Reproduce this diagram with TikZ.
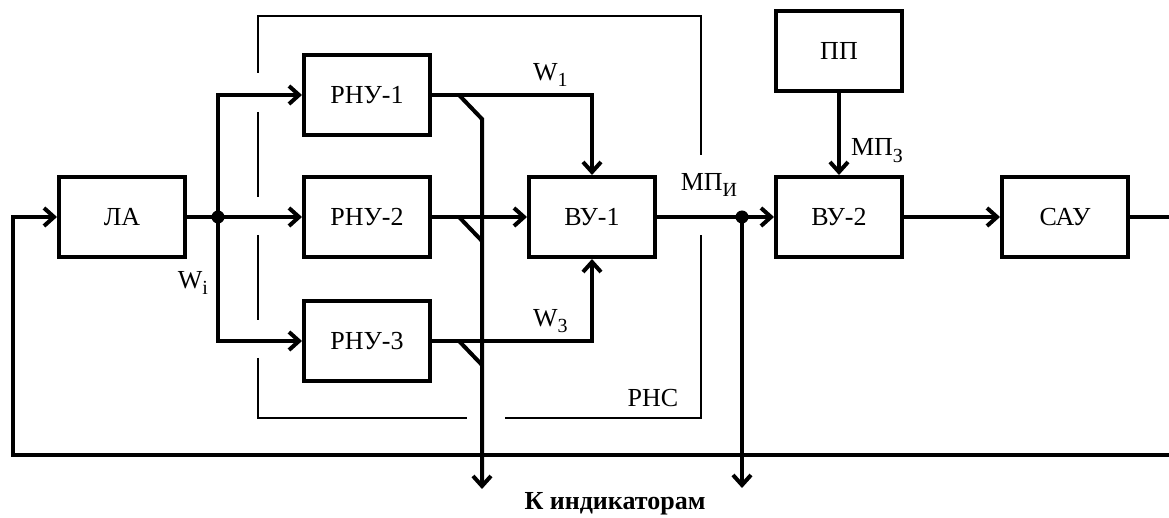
\documentclass[tikz,border=0pt]{standalone}
\usepackage{fontspec}
\setmainfont{Liberation Serif}
\usetikzlibrary{positioning, arrows.meta, calc}
\newcommand\lowidx[1]{\raisebox{-0.55ex}{\fontsize{10}{12}\selectfont #1}}

\begin{document}
\begin{tikzpicture}[
  font=\fontsize{13}{15}\selectfont,
  node distance=19pt and 57.5pt,
  blk/.style  ={rectangle, draw, line width=2pt,
                minimum width=63pt, minimum height=40pt,
                align=center, inner sep=0pt},
  flow/.style ={-{Straight Barb[length=5pt,width=9pt]}, line width=2pt},
  wire/.style ={line width=2pt},
  frame/.style={line width=0.6pt},
  dot/.style  ={circle, fill, inner sep=0pt, minimum size=6.5pt},
  lbl/.style  ={inner sep=1pt}
]
\useasboundingbox (0,0) rectangle (584.5pt,-259pt);

% ---------- Aircraft and receivers ----------
\node[blk] (la) at (61pt,-108.5pt) {ЛА};
\node[blk, right=57.5pt of la]  (rnu2) {РНУ-2};
\node[blk, above=19pt of rnu2]  (rnu1) {РНУ-1};
\node[blk, below=20pt of rnu2]  (rnu3) {РНУ-3};

% ---------- Computers and control ----------
\node[blk, right=47.5pt of rnu2] (vu1) {ВУ-1};
\node[blk, right=58.5pt of vu1]  (vu2) {ВУ-2};
\node[blk, above=41pt of vu2]    (pp)  {ПП};
\node[blk, right=48pt of vu2]    (sau) {САУ};

% ---------- Helper points ----------
\coordinate (j1)   at ($(la.east)+(15.5pt,0)$);
\coordinate (j2)   at ($(vu1.east)+(42.5pt,0)$);
\coordinate (t1)   at ($(rnu1.east)+(13.5pt,0)$);
\coordinate (t2)   at ($(rnu2.east)+(13.5pt,0)$);
\coordinate (t3)   at ($(rnu3.east)+(13.5pt,0)$);
\coordinate (b1)   at ($(t1)+(11.5pt,-12pt)$);
\coordinate (b2)   at ($(t2)+(11.5pt,-12pt)$);
\coordinate (b3)   at ($(t3)+(11.5pt,-12pt)$);
\coordinate (ind1) at ($(b1)+(0,-185pt)$);
\coordinate (ind2) at ($(j2)+(0,-135.5pt)$);
\coordinate (fbL)  at (6.5pt,-227.5pt);
\coordinate (fbR)  at (584.5pt,-227.5pt);
\coordinate (outR) at (584.5pt,-108.5pt);

% ---------- Arrows ----------
\draw[wire] (la.east) -- (j1);
\draw[flow] (j1) |- (rnu1.west);
\draw[flow] (j1) -- (rnu2.west);
\draw[flow] (j1) |- (rnu3.west);
\node[dot] (d1) at (j1) {};

\draw[flow] (rnu1.east) -| node[lbl, pos=0.37, above=2pt] (w1) {W\lowidx{1}} (vu1.north);
\draw[flow] (rnu2) -- (vu1);
\draw[flow] (rnu3.east) -| node[lbl, pos=0.37, above=2pt] (w3) {W\lowidx{3}} (vu1.south);

\draw[flow] (t1) -- (b1) -- (ind1);
\draw[wire] (t2) -- (b2);
\draw[wire] (t3) -- (b3);

\draw[flow] (vu1) -- (vu2);
\draw[flow] (j2)  -- (ind2);
\node[dot] (d2) at (j2) {};
\draw[flow] (pp)  -- node[lbl, pos=0.7, right=4pt] (mpz) {МП\lowidx{З}} (vu2);
\draw[flow] (vu2) -- (sau);
\draw[wire] (sau.east) -- (outR);
\draw[flow] (fbR) -- (fbL) |- (la.west);

% ---------- Labels ----------
\node[lbl] (mpi) at ($(j2)+(-16.5pt,16pt)$) {МП\lowidx{И}};
\node[lbl] (wi)  at (96.5pt,-141.5pt) {W\lowidx{i}};
\node[lbl] (rns) at (326.5pt,-199pt) {РНС};
\node[lbl, font=\fontsize{13}{15}\selectfont\bfseries] (ind) at (307.5pt,-252pt) {К индикаторам};

% ---------- РНС frame ----------
\draw[frame] (129pt,-36.5pt) -- (129pt,-8pt) -- (350.5pt,-8pt) -- (350.5pt,-77.5pt);
\draw[frame] (129pt,-56pt)   -- (129pt,-98.5pt);
\draw[frame] (129pt,-117.5pt) -- (129pt,-160pt);
\draw[frame] (129pt,-179pt)  -- (129pt,-209pt) -- (233.5pt,-209pt);
\draw[frame] (252.5pt,-209pt) -- (350.5pt,-209pt) -- (350.5pt,-117.5pt);

\end{tikzpicture}
\end{document}
